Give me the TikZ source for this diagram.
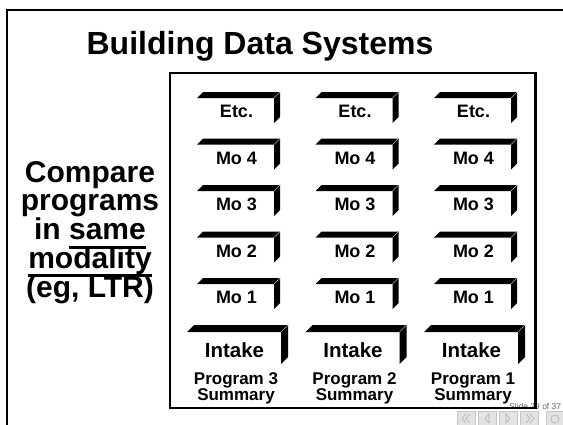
\documentclass[tikz,border=0pt]{standalone}
\usepackage{fontspec}
\setmainfont{Liberation Sans}
\newcommand{\blk}[6]{%
  \fill[black] (#1,#2+#5) -- (#1+#5,#2) -- (#3,#2) -- (#3-#5,#2+#5) -- cycle;
  \fill[black] (#3-#5,#2+#5) -- (#3,#2) -- (#3,#4-#6) -- (#3-#5,#4) -- cycle;
  \draw[gray!70,line width=0.6pt] (#3-#5,#2+#5) -- (#3,#2);
}
\newcommand{\thul}[1]{\setbox0\hbox{#1}\rlap{\vrule width\wd0 height -6pt depth 9pt}\box0}
\begin{document}
\begin{tikzpicture}[x=1pt,y=-1pt,
  lbl/.style={font=\fontsize{18}{20}\selectfont\bfseries, inner sep=0pt, anchor=base},
  intk/.style={font=\fontsize{20.5}{22}\selectfont\bfseries, inner sep=0pt, anchor=base},
  summ/.style={font=\fontsize{17}{18}\selectfont\bfseries, inner sep=0pt, anchor=base},
  side/.style={font=\fontsize{30}{29}\selectfont\bfseries, inner sep=0pt, anchor=base},
  frame/.style={draw=black, line width=2.2pt},
  btn/.style={fill=gray!22, draw=gray!45, line width=0.5pt},
  glyph/.style={draw=gray!60, line width=0.6pt}]
\useasboundingbox (0,0) rectangle (563,424);
\fill[white] (0,0) rectangle (563,424);
% outer frame
\draw[line width=2pt] (7,430) -- (7,10) -- (570,10);
% title
\node[font=\fontsize{32}{36}\selectfont\bfseries, inner sep=0pt, anchor=base] (title) at (260,54) {Building Data Systems};
% side text
\node[side] (s1) at (90,182) {Compare};
\node[side] (s2) at (90,210.5) {programs};
\node[side] (s3) at (90,239.5) {in \thul{same}};
\node[side] (s4) at (90,268) {\thul{modality}};
\node[side] (s5) at (90,297) {(eg, LTR)};
% footer text
\node[font=\fontsize{8.5}{9}\selectfont, text=gray!80!black, inner sep=0pt, anchor=base west] (slide) at (509,409) {Slide 29 of 37};
% inner frame
\draw[frame] (170,73) rectangle (535.5,408);
% blocks
\foreach \pn [count=\ci] in {3,2,1} {
  \pgfmathsetmacro\L{197+118.5*(\ci-1)}
  \foreach \t [count=\ri] in {Etc.,Mo 4,Mo 3,Mo 2,Mo 1} {
    \pgfmathsetmacro\T{92+46.5*(\ri-1)}
    \blk{\L}{\T}{\L+83}{\T+31}{6}{6}
    \node[lbl] (m\ri-\ci) at (\L+39.5,\T+25.5) {\t};
  }
  \pgfmathsetmacro\I{187+118.5*(\ci-1)}
  \blk{\I}{325}{\I+101}{364}{7}{7}
  \node[intk] (in-\ci) at (\I+47.5,357) {Intake};
  \node[summ] (pa-\ci) at (\I+49,384.5) {Program \pn};
  \node[summ] (pb-\ci) at (\I+49,400) {Summary};
}
% nav buttons
\draw[btn] (457,411) rectangle (475,426);
\draw[btn] (478,411) rectangle (496,426);
\draw[btn] (499,411) rectangle (517,426);
\draw[btn] (520,411) rectangle (538,426);
\draw[btn] (546,411) rectangle (566,426);
\draw[glyph] (466,414) -- (462,418.5) -- (466,423);
\draw[glyph] (470,414) -- (466,418.5) -- (470,423);
\draw[glyph] (489,414) -- (485,418.5) -- (489,423) -- cycle;
\draw[glyph] (506,414) -- (510,418.5) -- (506,423) -- cycle;
\draw[glyph] (526,414) -- (530,418.5) -- (526,423);
\draw[glyph] (530,414) -- (534,418.5) -- (530,423);
\draw[glyph] (555,419) circle (4);
\end{tikzpicture}
\end{document}
